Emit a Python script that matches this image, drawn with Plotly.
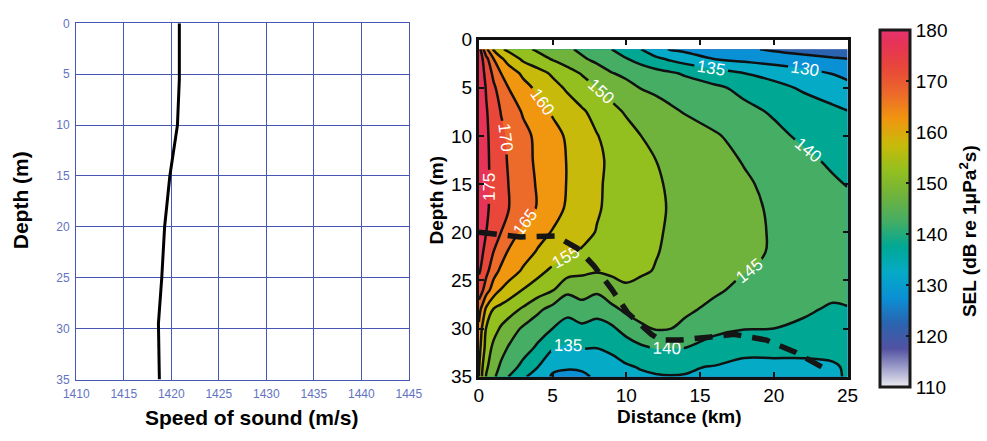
import plotly.graph_objects as go

W, H = 987, 441

# ---------------- data ----------------
# left panel: sound-speed profile
depth_profile = [0, 5.5, 10, 15, 20, 25, 29.5, 35]
sound_speed = [1420.85, 1420.85, 1420.65, 1419.85, 1419.3, 1419.0, 1418.65, 1418.75]

# right panel: SEL field (dB re 1 uPa^2 s) on a distance x depth grid
distance_km = [0, 0.25, 0.5, 1, 1.5, 2, 3, 4, 5, 6, 7, 8, 9, 10, 11, 12, 13, 14, 16, 18, 20, 22, 24, 25]
depth_m = [1, 2, 3.5, 5, 7.5, 10, 12.5, 15, 17.5, 20, 22, 24, 26, 28, 30, 32, 34, 35]
sel_db = [
    [178, 171.3, 166, 159.3, 155.7, 153.9, 151.3, 149.2, 147.5, 145.8, 144, 142, 140, 137.5, 135, 131.7, 129.6, 128.8, 127.3, 125.8, 124.3, 123, 121.7, 121],
    [179, 175, 171.4, 165, 160.8, 158, 154.1, 151.8, 149.6, 147.6, 145.6, 143.8, 142, 140.2, 138.1, 136, 134.2, 132.6, 129.8, 128.7, 127.7, 126.6, 125.5, 125],
    [179, 176.1, 173.5, 168.8, 165, 162.7, 159, 156.7, 154.3, 151.9, 149.6, 147.4, 145.2, 144, 142.8, 141.7, 140.6, 139.4, 137.2, 135, 133.3, 131.6, 129.8, 128.6],
    [179, 176.8, 174.6, 170.8, 167.8, 165, 161.7, 158.9, 156.6, 154.3, 152.2, 150, 148.2, 146.4, 144.8, 144, 143.2, 142.4, 140.8, 138.8, 136.5, 134.3, 132.4, 131.5],
    [179, 177.2, 175.4, 172.5, 169.8, 168, 164.5, 161.9, 159.5, 157.5, 155.6, 153.5, 151.3, 149.5, 148.3, 147, 145.75, 144.7, 142.9, 141.2, 139.5, 137.8, 136.1, 135.2],
    [179, 177.3, 175.7, 173.3, 171.1, 169.3, 166.4, 163.9, 161.6, 159.4, 157.3, 155.2, 153.4, 151.7, 150, 149.1, 148.2, 147.3, 145.5, 143.3, 141.1, 139.2, 137.5, 136.7],
    [179, 177.5, 175.9, 173.5, 171.5, 169.6, 166.7, 164.1, 162, 159.8, 157.8, 155.8, 154.2, 152.8, 151.4, 150, 149.1, 148.2, 146.5, 144.7, 142.9, 141, 139.2, 138.3],
    [179, 177.5, 175.9, 173.7, 171.9, 170, 167.2, 164.5, 162.1, 159.8, 157.7, 155.6, 154.1, 152.9, 151.7, 150.5, 149.5, 148.7, 147.1, 145.6, 143.9, 142.3, 140.6, 139.8],
    [179, 177.3, 175.7, 173.6, 171.9, 170.2, 167.4, 164.6, 161.9, 159.4, 157.4, 155.4, 154.1, 153, 151.8, 150.7, 149.7, 148.9, 147.4, 145.9, 144.5, 143.3, 142.1, 141.5],
    [178.5, 176.75, 175, 172.5, 170, 167.5, 163.9, 161.7, 159.7, 158, 156.3, 154.8, 153.7, 152.6, 151.5, 150.4, 149.6, 148.8, 147.4, 145.9, 144.7, 143.8, 142.9, 142.5],
    [177, 175.3, 173.6, 170, 167.2, 164.7, 162.1, 159.6, 157.8, 155.9, 154.6, 153.7, 152.8, 151.9, 151.1, 150.2, 149.4, 148.7, 147.2, 145.8, 144.7, 143.9, 143.2, 142.8],
    [175.5, 174, 171.5, 166.8, 164.1, 162.5, 159.4, 156.5, 154, 152.2, 150.9, 150.4, 150.8, 151, 150.5, 149.8, 149, 148.3, 146.7, 145.2, 144.3, 143.5, 142.7, 142.3],
    [173, 170.5, 167.1, 162.7, 159.7, 158, 154.8, 152.5, 150.3, 146, 147.3, 145.9, 148.1, 149.4, 148.8, 147.6, 147.5, 147.2, 145.7, 143.8, 143, 142.3, 140.8, 141],
    [167, 163, 159, 154.7, 153.4, 152.1, 149.3, 146, 143.4, 141.7, 142.8, 141.7, 143.8, 146, 146.7, 146.5, 146.2, 145.9, 143.8, 141.8, 141, 140.5, 139.6, 139.8],
    [164, 159, 154.7, 151.9, 149.4, 147.6, 144.3, 142.2, 140, 137.8, 139, 138.3, 139.1, 142, 144.3, 145.3, 145.1, 143.8, 140.7, 140.2, 140, 139.4, 137.5, 138.3],
    [162, 157.5, 152.9, 148.75, 146.7, 144.7, 142.1, 139.2, 135.4, 134.3, 135.3, 135.1, 135.8, 137.4, 139.2, 140.3, 140.1, 140, 138.8, 136.6, 136.4, 136.4, 136.3, 136.8],
    [160.5, 155, 150.8, 147, 144.2, 142.3, 138.6, 135, 130.8, 130.3, 130.5, 131.5, 133.5, 134.5, 135.3, 135.5, 135.6, 135.5, 134.7, 133.6, 133.8, 133.8, 134.5, 135.5],
    [160, 154, 149.6, 145.8, 142.8, 140, 135.8, 132.5, 129.5, 129.2, 129.4, 130.5, 132.2, 133.5, 134.3, 134.8, 134.9, 134.8, 134, 133.2, 133.4, 133.4, 134.5, 135.3],
]

# dashed boundary line
boundary_km = [0, 2.8, 5.2, 6.7, 7.8, 9.0, 10.1, 11.7, 12.3, 13.6, 15.6, 17.3, 19.5, 21.5, 23.5]
boundary_depth = [20.0, 20.5, 20.4, 21.7, 23.5, 25.9, 28.4, 30.6, 31.2, 31.2, 30.9, 30.6, 31.2, 32.5, 34.2]

sel_levels = dict(start=110, end=180, size=5)
cbar_ticks = [110, 120, 130, 140, 150, 160, 170, 180]
speed_ticks = [1410, 1415, 1420, 1425, 1430, 1435, 1440, 1445]
depth_ticks = [0, 5, 10, 15, 20, 25, 30, 35]
dist_ticks = [0, 5, 10, 15, 20, 25]

colorscale = [
    [0.0, "#ececf2"],
    [0.0357, "#b9b9d8"],
    [0.107, "#5252a2"],
    [0.179, "#2a64b0"],
    [0.25, "#0a90d5"],
    [0.321, "#05aac6"],
    [0.393, "#00a894"],
    [0.464, "#45ad64"],
    [0.536, "#6fb33c"],
    [0.607, "#94c01f"],
    [0.679, "#c8ba0a"],
    [0.75, "#f0960f"],
    [0.821, "#ec6a2a"],
    [0.893, "#e8473a"],
    [0.964, "#e63358"],
    [1.0, "#e6336e"],
]

FONT = "Arial, Liberation Sans, Helvetica, sans-serif"
GRID = "#4657b3"


def fx(px):
    return px / W


def fy(py):
    return 1 - py / H


fig = go.Figure()

# left: sound speed profile
fig.add_trace(go.Scatter(
    x=sound_speed, y=depth_profile, mode="lines",
    line=dict(color="black", width=3), xaxis="x", yaxis="y",
    showlegend=False, hoverinfo="skip",
))

# right: SEL filled contours
fig.add_trace(go.Contour(
    x=distance_km, y=depth_m, z=sel_db,
    xaxis="x2", yaxis="y2",
    zmin=110, zmax=180, autocontour=False,
    contours=dict(start=sel_levels["start"], end=sel_levels["end"], size=sel_levels["size"],
                  coloring="fill", showlabels=True,
                  labelfont=dict(family=FONT, size=17, color="white")),
    line=dict(color="#111111", width=2.5),
    colorscale=colorscale, showscale=False, hoverinfo="skip",
))

# dashed boundary
fig.add_trace(go.Scatter(
    x=boundary_km, y=boundary_depth, mode="lines",
    line=dict(color="#151515", width=5.5, dash="18px,11px"),
    xaxis="x2", yaxis="y2", showlegend=False, hoverinfo="skip",
))

# colour bar (continuous) via a hidden marker trace
fig.add_trace(go.Scatter(
    x=[None], y=[None], mode="markers", xaxis="x2", yaxis="y2",
    marker=dict(color=[110], cmin=110, cmax=180, colorscale=colorscale, showscale=True,
                colorbar=dict(
                    x=fx(891), xanchor="left", y=fy(208.5), yanchor="middle",
                    len=357, lenmode="pixels", thickness=30, thicknessmode="pixels",
                    xpad=0, ypad=0, outlinewidth=3, outlinecolor="#1a1a1a",
                    ticks="inside", ticklen=5, tickwidth=2, tickcolor="#1a1a1a",
                    tickvals=cbar_ticks, tickfont=dict(family=FONT, size=19, color="black"),
                )),
    showlegend=False, hoverinfo="skip",
))

left_axis_common = dict(
    showgrid=True, gridcolor=GRID, gridwidth=1.2, showline=True, linecolor=GRID, linewidth=1.2,
    mirror=True, zeroline=False, ticks="", ticklabelstandoff=3,
    tickfont=dict(family=FONT, size=12, color="#6473c0"),
)
right_axis_common = dict(
    showgrid=False, zeroline=False, showline=True, linecolor="#111111", linewidth=3, mirror="ticks",
    ticks="inside", ticklen=5, tickwidth=2, tickcolor="#111111",
    tickfont=dict(family=FONT, size=19, color="black"),
)


def title_ann(text, x, y, angle=0, size=19):
    return dict(text=text, x=fx(x), y=fy(y), xref="paper", yref="paper",
                xanchor="center", yanchor="middle", textangle=angle,
                showarrow=False, font=dict(size=size, family=FONT, color="black"))


fig.update_layout(
    width=W, height=H, autosize=False,
    margin=dict(l=0, r=0, t=0, b=0),
    paper_bgcolor="white", plot_bgcolor="white",
    font=dict(family=FONT, color="black"),
    xaxis=dict(domain=[fx(65), fx(407)], range=[1410, 1445], tickvals=speed_ticks, anchor="y",
               **left_axis_common),
    yaxis=dict(domain=[fy(388), fy(14)], range=[35, 0], tickvals=depth_ticks, anchor="x",
               **left_axis_common),
    xaxis2=dict(domain=[fx(479), fx(858)], range=[0, 25], tickvals=dist_ticks, anchor="y2",
                **right_axis_common),
    yaxis2=dict(domain=[fy(385), fy(31)], range=[35, 0], tickvals=depth_ticks, anchor="x2",
                **right_axis_common),
    annotations=[
        title_ann("<b>Depth (m)</b>", 8, 200, -90, 21),
        title_ann("<b>Speed of sound (m/s)</b>", 246, 428, 0, 21),
        title_ann("<b>Depth (m)</b>", 435, 200, -90),
        title_ann("<b>Distance (km)</b>", 685, 427),
        title_ann("<b>SEL (dB re 1μPa<sup>2</sup>s)</b>", 982, 232, -90),
    ],
)

fig.write_html("out.html", config={"displayModeBar": False},
               post_script="document.body.style.margin='0';")
